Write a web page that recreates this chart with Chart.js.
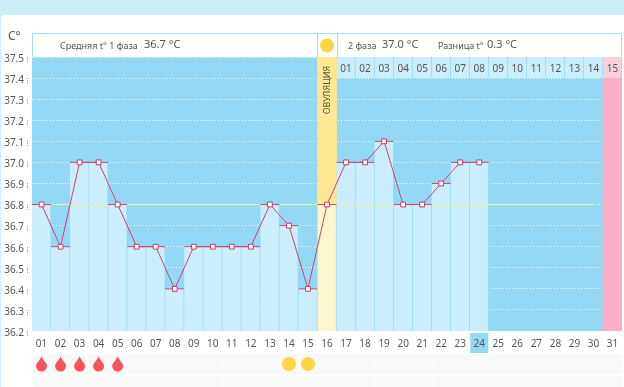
<!DOCTYPE html>
<html>
<head>
<meta charset="utf-8">
<style>
  html, body { margin: 0; padding: 0; background: #cdeefb; overflow: hidden; }
  #panel { position: absolute; left: 1px; top: 15px; width: 623px; height: 372px; background: #fff; border-radius: 4px 0 0 0; }
  #wrap { position: absolute; left: 0; top: 0; width: 624px; height: 387px; }
</style>
<script src="https://cdn.jsdelivr.net/npm/chart.js@4"></script>
</head>
<body>
<div id="panel"></div>
<div id="wrap"><canvas id="bbtChart" width="624" height="387"></canvas></div>
<script>
const days = ["01","02","03","04","05","06","07","08","09","10","11","12","13","14","15","16",
  "17","18","19","20","21","22","23","24","25","26","27","28","29","30","31"];
const temps = [36.8,36.6,37.0,37.0,36.8,36.6,36.6,36.4,36.6,36.6,36.6,36.6,36.8,36.7,36.4,36.8,
  37.0,37.0,37.1,36.8,36.8,36.9,37.0,37.0];
const phaseTwoDays = ["01","02","03","04","05","06","07","08","09","10","11","12","13","14","15"];
const periodDays = ["01","02","03","04","05"];
const fertileDays = ["14","15"];
const ovulationDay = "16";
const todayDay = "24";
const lastDay = "31";
const coverLine = 36.8;
const tempMin = 36.2;
const tempMax = 37.5;

const font = '"Noto Sans", sans-serif';
const ovulationIdx = days.indexOf(ovulationDay);
const lastIdx = days.indexOf(lastDay);

const chartDecor = {
  id: "chartDecor",
  beforeDraw(chart) {
    const { ctx, chartArea: a, scales: { x, y } } = chart;
    ctx.save();
    // blue field
    ctx.fillStyle = "#93d8f5";
    ctx.fillRect(a.left, a.top, a.right - a.left, a.bottom - a.top);
    // today highlight
    const colW = x.getPixelForValue(1) - x.getPixelForValue(0);
    ctx.fillRect(x.getPixelForValue(days.indexOf(todayDay)) - colW / 2 + 0.5, a.bottom + 2, colW - 1, 20);
    // symptom rows
    ctx.fillStyle = "#f9f9f9";
    days.forEach((d, i) => {
      const cx = x.getPixelForValue(i);
      ctx.fillRect(cx - colW / 2 + 1, a.bottom + 23, colW, 20);
      ctx.fillRect(cx - colW / 2 + 1, a.bottom + 45, colW, 12);
    });
    // header strip
    ctx.fillStyle = "#fffffb";
    ctx.strokeStyle = "#a6dff2";
    ctx.lineWidth = 1;
    ctx.fillRect(32, 33, a.right - 32, a.top - 33);
    ctx.strokeRect(32.5, 33.5, a.right - 33, a.top - 33);
    const ox = x.getPixelForValue(ovulationIdx);
    [ox - colW / 2, ox + colW / 2].forEach(px => {
      ctx.beginPath();
      ctx.moveTo(Math.round(px) + 0.5, 33);
      ctx.lineTo(Math.round(px) + 0.5, a.top);
      ctx.stroke();
    });
    ctx.fillStyle = "#ffd546";
    ctx.beginPath();
    ctx.arc(ox, 45.5, 7, 0, Math.PI * 2);
    ctx.fill();
    // header text
    ctx.textBaseline = "middle";
    ctx.textAlign = "left";
    ctx.fillStyle = "#555";
    ctx.font = "9px " + font;
    ctx.fillText("Средняя t° 1 фаза", 60, 46);
    ctx.fillText("2 фаза", 348, 46);
    ctx.fillText("Разница t°", 438, 46);
    ctx.font = "11px " + font;
    ctx.fillText("36.7 °C", 144, 45);
    ctx.fillText("37.0 °C", 382, 45);
    ctx.fillText("0.3 °C", 487, 45);
    ctx.font = "12px " + font;
    ctx.fillText("C°", 8, 37);
    // dotted marks next to the y labels
    ctx.fillStyle = "#999";
    y.ticks.forEach(t => {
      const py = Math.round(y.getPixelForValue(t.value)) + 2;
      ctx.fillRect(27, py - 2, 1, 1);
      ctx.fillRect(27, py, 1, 1);
      ctx.fillRect(27, py + 2, 1, 1);
    });
    ctx.restore();
  },
  afterDraw(chart) {
    const { ctx, chartArea: a, scales: { x, y } } = chart;
    ctx.save();
    ctx.textAlign = "center";
    ctx.textBaseline = "middle";
    ctx.fillStyle = "#555";
    ctx.font = "10px " + font;
    const topY = (y.getPixelForValue(37.5) + y.getPixelForValue(37.4)) / 2 + 2;
    phaseTwoDays.forEach((d, i) => {
      ctx.fillText(d, x.getPixelForValue(ovulationIdx + 1 + i), topY);
    });
    // ovulation caption
    ctx.save();
    ctx.translate(x.getPixelForValue(ovulationIdx), a.top + 33);
    ctx.rotate(-Math.PI / 2);
    ctx.font = "9px " + font;
    ctx.fillText("ОВУЛЯЦИЯ", 0, 0);
    ctx.restore();
    // symptom row marks
    const rowY = a.bottom + 33;
    ctx.fillStyle = "#f9525a";
    periodDays.forEach(d => {
      const cx = x.getPixelForValue(days.indexOf(d));
      ctx.beginPath();
      ctx.moveTo(cx, rowY - 8);
      ctx.bezierCurveTo(cx + 1, rowY - 4, cx + 5.5, rowY - 1, cx + 5.5, rowY + 2);
      ctx.arc(cx, rowY + 2, 5.5, 0, Math.PI);
      ctx.bezierCurveTo(cx - 5.5, rowY - 1, cx - 1, rowY - 4, cx, rowY - 8);
      ctx.fill();
    });
    ctx.fillStyle = "#ffd546";
    fertileDays.forEach(d => {
      ctx.beginPath();
      ctx.arc(x.getPixelForValue(days.indexOf(d)), rowY, 7, 0, Math.PI * 2);
      ctx.fill();
    });
    ctx.restore();
  }
};

const barBase = {
  type: "bar",
  grouped: false,
  barPercentage: 1,
  categoryPercentage: 1,
  borderSkipped: false
};

new Chart(document.getElementById("bbtChart"), {
  data: {
    labels: days,
    datasets: [
      {
        label: "Температура",
        type: "line",
        data: temps,
        order: 0,
        borderColor: "#d9406f",
        borderWidth: 1,
        tension: 0,
        pointStyle: "rect",
        pointRadius: 3.4,
        pointBorderWidth: 1,
        pointBackgroundColor: "#fff",
        pointBorderColor: "#c93a68"
      },
      {
        label: "Метка",
        type: "line",
        data: temps,
        order: 1,
        showLine: false,
        pointStyle: "line",
        pointRadius: 9.5,
        pointBorderWidth: 1,
        pointBorderColor: "#d9406f"
      },
      {
        label: "Покровная линия",
        type: "line",
        data: days.map((d, i) => i < lastIdx ? coverLine : null),
        order: 1.5,
        borderColor: "#edf29c",
        borderWidth: 1,
        pointRadius: 0
      },
      {
        ...barBase,
        label: "Дни",
        data: temps.map(v => [tempMin, v]),
        order: 2,
        backgroundColor: days.map((d, i) => i === ovulationIdx ? "#fdf6cf" : "#cbeefe"),
        borderColor: "#93d8f5",
        borderWidth: { right: 1 }
      },
      {
        ...barBase,
        label: "Овуляция",
        data: days.map((d, i) => i === ovulationIdx ? [coverLine, tempMax] : null),
        order: 3,
        backgroundColor: "#fee992"
      },
      {
        ...barBase,
        label: "2 фаза",
        data: days.map((d, i) => i > ovulationIdx ? [37.4, tempMax] : null),
        order: 3,
        backgroundColor: days.map((d, i) => i === lastIdx ? "#f9cfdc" : "#cbeefe"),
        borderColor: "#93d8f5",
        borderWidth: { right: 1 }
      },
      {
        ...barBase,
        label: "Конец цикла",
        data: days.map((d, i) => i === lastIdx ? [tempMin, tempMax] : null),
        order: 4,
        backgroundColor: "#fbafc6"
      }
    ]
  },
  options: {
    responsive: false,
    animation: false,
    layout: { autoPadding: false, padding: { top: 57, right: 2, bottom: 0, left: 0 } },
    plugins: { legend: { display: false }, tooltip: { enabled: false }, title: { display: false } },
    scales: {
      x: {
        offset: true,
        afterFit: s => { s.height = 56; s.paddingLeft = 0; s.paddingRight = 0; },
        grid: { display: false, drawTicks: false },
        border: { display: false },
        ticks: { color: "#555", font: { family: font, size: 10 }, padding: 7, maxRotation: 0, autoSkip: false }
      },
      y: {
        min: tempMin,
        max: tempMax,
        afterFit: s => { s.width = 32; s.paddingTop = 0; s.paddingBottom = 0; },
        grid: { color: "#ffffff", lineWidth: 1, drawTicks: false },
        border: { display: false, dash: [1, 2] },
        ticks: {
          stepSize: 0.1,
          color: "#555",
          font: { family: font, size: 10 },
          padding: 8,
          labelOffset: 2,
          callback: v => v.toFixed(1)
        }
      }
    }
  },
  plugins: [chartDecor]
});
</script>
</body>
</html>
